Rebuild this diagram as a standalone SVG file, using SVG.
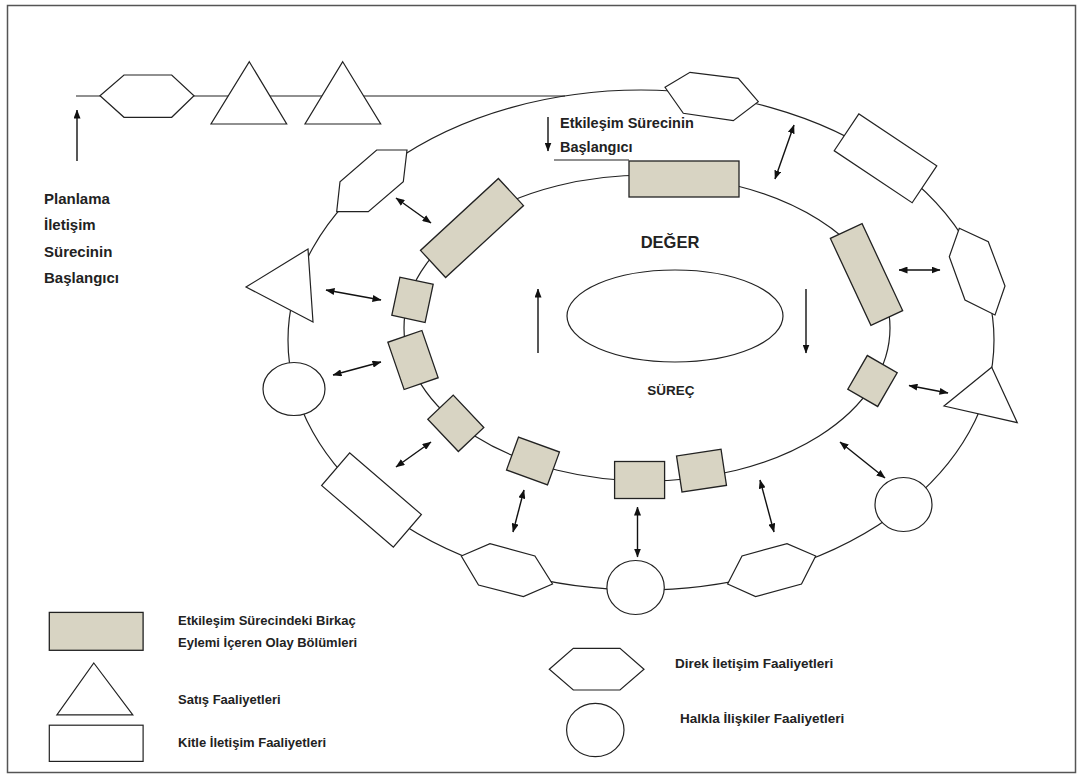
<svg xmlns="http://www.w3.org/2000/svg" width="1082" height="776" viewBox="0 0 1082 776">
<defs>
<style>
.s{fill:#fff;stroke:#222;stroke-width:1.2}
.t{fill:#d8d4c3;stroke:#222;stroke-width:1.3}
.ln{fill:none;stroke:#222;stroke-width:1.2}
.ar{fill:none;stroke:#111;stroke-width:1.4}
.da{marker-start:url(#ah);marker-end:url(#ah)}
.sa{marker-end:url(#ah)}
text{font-family:"Liberation Sans",Arial,sans-serif;font-weight:bold;fill:#222}
</style>
<marker id="ah" markerUnits="userSpaceOnUse" markerWidth="9" markerHeight="7" refX="8.5" refY="3.5" orient="auto-start-reverse">
<path d="M0,0 L9,3.5 L0,7 z" fill="#111"/>
</marker>
</defs>
<rect x="7.5" y="5.5" width="1068" height="767" fill="#fff" stroke="#555" stroke-width="1.5"/>

<g id="connectors">
<line class="ln" x1="76" y1="96" x2="565" y2="96"/>
<ellipse class="ln" cx="641" cy="340" rx="353" ry="250"/>
<ellipse class="ln" cx="647" cy="328" rx="243" ry="153"/>
<line class="ln" x1="554" y1="160" x2="629" y2="160"/>
<line class="ar sa" x1="77" y1="161" x2="77" y2="110"/>
<line class="ar sa" x1="548" y1="117" x2="548" y2="151"/>
<line class="ar sa" x1="538" y1="353" x2="538" y2="289"/>
<line class="ar sa" x1="806" y1="289" x2="806" y2="353"/>
<line class="ar da" x1="396" y1="198" x2="431" y2="223"/>
<line class="ar da" x1="326" y1="290" x2="381" y2="300"/>
<line class="ar da" x1="333" y1="375" x2="381" y2="362"/>
<line class="ar da" x1="396" y1="467" x2="431" y2="442"/>
<line class="ar da" x1="524" y1="490" x2="513" y2="532"/>
<line class="ar da" x1="637.5" y1="507" x2="637.5" y2="557"/>
<line class="ar da" x1="760" y1="480" x2="774" y2="532"/>
<line class="ar da" x1="840" y1="442" x2="885" y2="478"/>
<line class="ar da" x1="909" y1="385.5" x2="948" y2="393"/>
<line class="ar da" x1="899" y1="270" x2="940" y2="270"/>
<line class="ar da" x1="775" y1="179" x2="794" y2="125"/>
</g>

<g id="top-hexagon"><polygon class="s" points="100,95.7 124,75 171.7,75 194,95.7 171.7,117.3 124,117.3"/></g>
<g id="top-triangle-1"><polygon class="s" points="249.3,61.7 286.7,124 211,124"/></g>
<g id="top-triangle-2"><polygon class="s" points="342.7,61.7 380.7,124 305,124"/></g>

<g id="outer-hex-top"><polygon class="s" points="665,87.3 690,72.3 738.3,78.3 758.3,101.7 733.3,120.7 683.3,113.3"/></g>
<g id="outer-rect-topright"><rect class="s" x="-46.85" y="-22.2" width="93.7" height="44.4" transform="translate(885.5,158.3) rotate(33.7)"/></g>
<g id="outer-hex-right"><polygon class="s" points="959.3,228.3 988.3,241.7 1005,286 995,315 965,300 949.3,256.7"/></g>
<g id="outer-tri-right"><polygon class="s" points="991.7,367.3 1017.3,422.7 944,406"/></g>
<g id="outer-circle-br"><ellipse class="s" cx="903.5" cy="504.5" rx="28.5" ry="27"/></g>
<g id="outer-hex-br"><polygon class="s" points="727.6,584 742,556 787,543.6 815.7,556 801.5,584 755.6,596.6"/></g>
<g id="outer-circle-bottom"><ellipse class="s" cx="635.6" cy="587.5" rx="28.7" ry="27"/></g>
<g id="outer-hex-bl"><polygon class="s" points="461.3,556 490,543.6 534.9,556 552.5,584 523.4,596.6 478.5,585"/></g>
<g id="outer-rect-bl"><rect class="s" x="-47.3" y="-21.5" width="94.6" height="43" transform="translate(371.5,500) rotate(40.7)"/></g>
<g id="outer-circle-left"><ellipse class="s" cx="294" cy="389" rx="31" ry="26.5"/></g>
<g id="outer-tri-left"><polygon class="s" points="246,287 308,249 313,322"/></g>
<g id="outer-hex-ul"><polygon class="s" points="376.7,150 407,150 403.3,181.7 368.3,211.7 336.7,211.7 340,181.7"/></g>

<g id="inner-rect-top"><rect class="t" x="629" y="161" width="110" height="36"/></g>
<g id="inner-rect-right"><rect class="t" x="-17.5" y="-48" width="35" height="96" transform="translate(866.5,274.5) rotate(-25)"/></g>
<g id="inner-sq-right"><rect class="t" x="-17.25" y="-19.5" width="34.5" height="39" transform="translate(872.5,381) rotate(30)"/></g>
<g id="inner-sq-f"><rect class="t" x="-22.5" y="-18.25" width="45" height="36.5" transform="translate(701.5,470.7) rotate(-8.6)"/></g>
<g id="inner-sq-e"><rect class="t" x="614.6" y="461.5" width="50" height="37"/></g>
<g id="inner-sq-d"><rect class="t" x="-21.8" y="-17.5" width="43.6" height="35" transform="translate(533,461) rotate(20)"/></g>
<g id="inner-sq-c"><rect class="t" x="-17.5" y="-22.25" width="35" height="44.5" transform="translate(455.8,423.3) rotate(-43.4)"/></g>
<g id="inner-sq-b"><rect class="t" x="-18" y="-25" width="36" height="50" transform="translate(413,360) rotate(-19)"/></g>
<g id="inner-sq-a"><rect class="t" x="-17" y="-19.5" width="34" height="39" transform="translate(412.5,299.8) rotate(12)"/></g>
<g id="inner-rect-ul"><rect class="t" x="-53" y="-18.5" width="106" height="37" transform="translate(472,228) rotate(-42.7)"/></g>

<g id="center"><ellipse class="s" cx="675" cy="316" rx="108" ry="46"/></g>

<g id="labels">
<text x="44" y="204" font-size="15">Planlama</text>
<text x="44" y="230" font-size="15">İletişim</text>
<text x="44" y="257" font-size="15">Sürecinin</text>
<text x="44" y="283" font-size="15">Başlangıcı</text>
<text x="560" y="128" font-size="14.5">Etkileşim Sürecinin</text>
<text x="560" y="152" font-size="14.5">Başlangıcı</text>
<text x="670" y="248" font-size="16.5" text-anchor="middle">DEĞER</text>
<text x="671" y="395" font-size="13.5" text-anchor="middle">SÜREÇ</text>
</g>

<g id="legend">
<rect class="t" x="49.3" y="612.4" width="93.8" height="37.9"/>
<polygon class="s" points="93.8,663 132.8,714.8 56.9,714.8"/>
<rect class="s" x="49.3" y="725.2" width="93.8" height="36.2"/>
<polygon class="s" points="549.3,669.3 573.3,648.3 620,648.3 644,669.3 620,690 573.3,690"/>
<ellipse class="s" cx="595.3" cy="730" rx="28.7" ry="26.7"/>
<text x="178" y="624.5" font-size="13">Etkileşim Sürecindeki Birkaç</text>
<text x="178" y="647" font-size="13">Eylemi İçeren Olay Bölümleri</text>
<text x="178" y="704" font-size="13">Satış Faaliyetleri</text>
<text x="178" y="747" font-size="13">Kitle İletişim Faaliyetleri</text>
<text x="675" y="668" font-size="13.5">Direk İletişim Faaliyetleri</text>
<text x="680" y="723" font-size="13.5">Halkla İlişkiler Faaliyetleri</text>
</g>
</svg>
